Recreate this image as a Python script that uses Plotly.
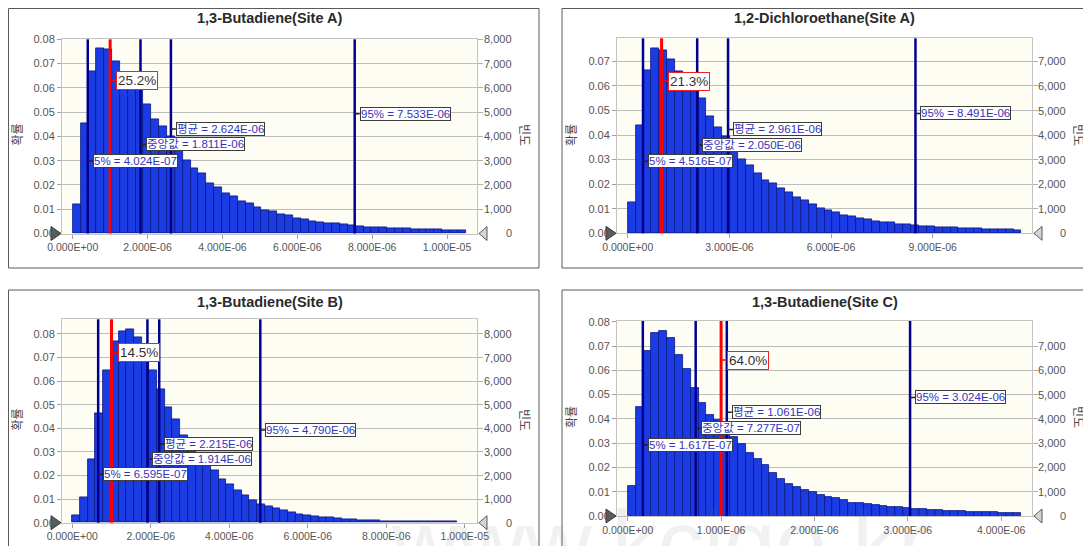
import numpy as np
import plotly.graph_objects as go

PAGE_W, PAGE_H = 1091, 546
BODY = 8                      # default page margin around the figure
W, H = PAGE_W - BODY, PAGE_H - BODY

# ---------------- data ----------------
titles = ["1,3-Butadiene(Site A)", "1,2-Dichloroethane(Site A)",
          "1,3-Butadiene(Site B)", "1,3-Butadiene(Site C)"]

prob_butadiene_a = [0.0121, 0.0455, 0.0667, 0.0763, 0.0759, 0.0711, 0.0655, 0.0612, 0.0595, 0.0533,
                    0.0471, 0.0440, 0.0400, 0.0353, 0.0300, 0.0270, 0.0247, 0.0208, 0.0190, 0.0167,
                    0.0153, 0.0133, 0.0123, 0.0108, 0.0095, 0.0090, 0.0081, 0.0073, 0.0062, 0.0058,
                    0.0052, 0.0047, 0.0044, 0.0041, 0.0037, 0.0033, 0.0030, 0.0027, 0.0026, 0.0025,
                    0.0022, 0.0022, 0.0020, 0.0019, 0.0018, 0.0018, 0.0016, 0.0015, 0.0015, 0.0015]
prob_dichloroethane_a = [0.0125, 0.0441, 0.0662, 0.0753, 0.0746, 0.0708, 0.0660, 0.0594, 0.0586, 0.0550,
                         0.0478, 0.0430, 0.0393, 0.0340, 0.0301, 0.0275, 0.0244, 0.0217, 0.0204, 0.0183,
                         0.0167, 0.0145, 0.0133, 0.0117, 0.0103, 0.0092, 0.0085, 0.0075, 0.0068, 0.0061,
                         0.0057, 0.0050, 0.0046, 0.0043, 0.0038, 0.0035, 0.0033, 0.0030, 0.0027, 0.0024,
                         0.0024, 0.0023, 0.0022, 0.0020, 0.0019, 0.0018, 0.0018, 0.0016, 0.0015, 0.0014]
prob_butadiene_b = [0.0033, 0.0106, 0.0269, 0.0464, 0.0647, 0.0767, 0.0810, 0.0820, 0.0786, 0.0720,
                    0.0645, 0.0567, 0.0490, 0.0438, 0.0370, 0.0330, 0.0290, 0.0254, 0.0223, 0.0185,
                    0.0164, 0.0139, 0.0117, 0.0096, 0.0079, 0.0068, 0.0061, 0.0051, 0.0044, 0.0037,
                    0.0031, 0.0027, 0.0023, 0.0021, 0.0020, 0.0016, 0.0013, 0.0011, 0.0010, 0.0009,
                    0.0008, 0.0008, 0.0007, 0.0007, 0.0006, 0.0006, 0.0006, 0.0005, 0.0005, 0.0005]
prob_butadiene_c = [0.0123, 0.0447, 0.0679, 0.0752, 0.0763, 0.0731, 0.0663, 0.0604, 0.0528, 0.0466,
                    0.0416, 0.0395, 0.0360, 0.0326, 0.0296, 0.0258, 0.0233, 0.0210, 0.0176, 0.0151,
                    0.0130, 0.0121, 0.0107, 0.0097, 0.0088, 0.0080, 0.0073, 0.0066, 0.0055, 0.0052,
                    0.0049, 0.0044, 0.0041, 0.0038, 0.0036, 0.0034, 0.0030, 0.0029, 0.0026, 0.0025,
                    0.0022, 0.0021, 0.0019, 0.0018, 0.0016, 0.0015, 0.0015, 0.0014, 0.0012, 0.0011]
probs = [prob_butadiene_a, prob_dichloroethane_a, prob_butadiene_b, prob_butadiene_c]

hist_max = [10.50e-6, 11.62e-6, 9.81e-6, 4.215e-6]   # upper end of histogram range
pct5 = [4.024e-7, 4.516e-7, 6.595e-7, 1.617e-7]
median = [1.811e-6, 2.050e-6, 1.914e-6, 7.277e-7]
mean = [2.624e-6, 2.961e-6, 2.215e-6, 1.061e-6]
pct95 = [7.533e-6, 8.491e-6, 4.790e-6, 3.024e-6]
threshold = [1.0e-6, 1.0e-6, 1.0e-6, 1.0e-6]
certainty = ["25.2%", "21.3%", "14.5%", "64.0%"]
trials = 100000

x_ticks = [[0, 2e-6, 4e-6, 6e-6, 8e-6, 1e-5],
           [0, 3e-6, 6e-6, 9e-6],
           [0, 2e-6, 4e-6, 6e-6, 8e-6, 1e-5],
           [0, 1e-6, 2e-6, 3e-6, 4e-6]]
prob_ticks = [[0.00, 0.01, 0.02, 0.03, 0.04, 0.05, 0.06, 0.07, 0.08],
              [0.00, 0.01, 0.02, 0.03, 0.04, 0.05, 0.06, 0.07],
              [0.00, 0.01, 0.02, 0.03, 0.04, 0.05, 0.06, 0.07, 0.08],
              [0.00, 0.01, 0.02, 0.03, 0.04, 0.05, 0.06, 0.07, 0.08]]
freq_ticks = [[0, 1000, 2000, 3000, 4000, 5000, 6000, 7000, 8000],
              [0, 1000, 2000, 3000, 4000, 5000, 6000, 7000],
              [0, 1000, 2000, 3000, 4000, 5000, 6000, 7000, 8000],
              [0, 1000, 2000, 3000, 4000, 5000, 6000, 7000]]

# label heights (probability units) for: certainty, 95%, mean, median, 5%
label_y = [[0.0629, 0.0493, 0.0430, 0.0367, 0.0299],
           [0.0620, 0.0488, 0.0423, 0.0360, 0.0293],
           [0.0721, 0.0393, 0.0334, 0.0270, 0.0206],
           [0.0642, 0.0488, 0.0427, 0.0361, 0.0292]]

# ---------------- layout geometry (page pixels) ----------------
plot_px = [(62, 477, 39.3, 233.5), (617, 1032, 38.3, 233.3),
           (62, 477, 319.3, 522.7), (617, 1032, 321, 516)]
x_ranges = [[-0.286e-6, 10.80e-6], [-0.316e-6, 11.93e-6],
            [-0.262e-6, 10.31e-6], [-0.115e-6, 4.33e-6]]
y_ranges = [[0, 0.080], [0, 0.0794], [0, 0.0862], [0, 0.0803]]
frames_px = [(8.5, 539, 8.5, 268), (562, 1100, 8.5, 268), (8.5, 539, 290, 570), (562, 1100, 290, 570)]
title_px = [(269.5, 18), (824.5, 18), (269.5, 302), (824.5, 302)]
ylab_px = [(15.5, 135), (570, 135), (15.5, 420), (570, 417)]
flab_px = [(526, 135), (1080, 135), (526, 420), (1080, 417)]
ftick_right_px = [514, 1068, 514, 1068]


def px_x(v):
    return (v - BODY) / W


def px_y(v):
    return 1 - (v - BODY) / H


FONT = "Liberation Sans, Arial, Noto Sans CJK KR, sans-serif"
BAR_COLOR = "#1b3be3"
BAR_EDGE = "#0a1784"
LINE_COLOR = "#00008f"
LABEL_TEXT = "#3434b8"

fig = go.Figure()
shapes = []
annotations = []
layout = {}

for i in range(4):
    n = i + 1
    xa = "x" if n == 1 else f"x{n}"
    ya = "y" if n == 1 else f"y{n}"
    ya_r = f"y{n + 4}"
    vals = np.array(probs[i])
    nb = len(vals)
    bw = hist_max[i] / nb
    centers = (np.arange(nb) + 0.5) * bw

    fig.add_trace(go.Bar(x=centers, y=vals, width=bw, xaxis=xa, yaxis=ya,
                         marker=dict(color=BAR_COLOR, line=dict(color=BAR_EDGE, width=0.8)),
                         showlegend=False, hoverinfo="skip"))
    fig.add_trace(go.Scatter(x=[centers[0]], y=[vals[0] * trials], xaxis=xa, yaxis=ya_r,
                             mode="markers", marker=dict(opacity=0), showlegend=False,
                             hoverinfo="skip"))

    x0, x1, y0, y1 = plot_px[i]
    xdom = [px_x(x0), px_x(x1)]
    ydom = [px_y(y1), px_y(y0)]
    xkey = "xaxis" if n == 1 else f"xaxis{n}"
    ykey = "yaxis" if n == 1 else f"yaxis{n}"
    layout[xkey] = dict(domain=xdom, anchor=ya, range=x_ranges[i], automargin=False,
                        tickvals=x_ticks[i], ticktext=[f"{v:.3E}" for v in x_ticks[i]],
                        ticks="outside", ticklen=4, tickcolor="#a0a0a0",
                        tickfont=dict(family=FONT, size=10.5, color="#555555"),
                        showgrid=False, zeroline=False, showline=True, mirror=True,
                        linecolor="#c4c4c4", linewidth=1, fixedrange=True)
    layout[ykey] = dict(domain=ydom, anchor=xa, range=y_ranges[i], automargin=False,
                        tickvals=prob_ticks[i], ticktext=[f"{v:.2f}" for v in prob_ticks[i]],
                        ticks="outside", ticklen=4, tickcolor="#a0a0a0",
                        tickfont=dict(family=FONT, size=11, color="#555555"),
                        showgrid=True, gridcolor="#bdbdbd", gridwidth=1,
                        zeroline=False, showline=True, mirror=True,
                        linecolor="#c4c4c4", linewidth=1, fixedrange=True)
    layout[f"yaxis{n + 4}"] = dict(overlaying=ya, side="right", anchor=xa, automargin=False,
                                   range=[y_ranges[i][0] * trials, y_ranges[i][1] * trials],
                                   tickvals=freq_ticks[i], showticklabels=False,
                                   ticks="outside", ticklen=5, tickcolor="#b0b0b0",
                                   showgrid=False, zeroline=False, showline=False,
                                   fixedrange=True)

    for f in freq_ticks[i]:
        annotations.append(dict(x=px_x(ftick_right_px[i]), xref="paper", y=f / trials, yref=ya,
                                text=f"{f:,}", showarrow=False, xanchor="right", yanchor="middle",
                                font=dict(family=FONT, size=11, color="#555555")))

    fx0, fx1, fy0, fy1 = frames_px[i]
    shapes.append(dict(type="rect", xref="paper", yref="paper",
                       x0=px_x(fx0), x1=px_x(fx1), y0=px_y(fy1), y1=px_y(fy0),
                       line=dict(color="#5a5a5a", width=1), fillcolor="rgba(0,0,0,0)",
                       layer="below"))

    for v in [pct5[i], median[i], mean[i], pct95[i]]:
        shapes.append(dict(type="line", xref=xa, yref=f"{ya} domain", x0=v, x1=v, y0=0, y1=1,
                           line=dict(color=LINE_COLOR, width=2.5)))
    shapes.append(dict(type="line", xref=xa, yref=f"{ya} domain", x0=threshold[i], x1=threshold[i],
                       y0=0, y1=1, line=dict(color="#ff0000", width=3)))

    # grabber triangles (paper referenced so they are not clipped)
    shapes.append(dict(type="path", xref="paper", yref="paper", xsizemode="pixel",
                       ysizemode="pixel", xanchor=px_x(x0), yanchor=px_y(y1),
                       path="M -11,-7 L -1,0 L -11,7 Z", fillcolor="#5c5c5c",
                       line=dict(color="#3a3a3a", width=1)))
    shapes.append(dict(type="path", xref="paper", yref="paper", xsizemode="pixel",
                       ysizemode="pixel", xanchor=px_x(x1), yanchor=px_y(y1),
                       path="M 2,0 L 10,-7 L 10,7 Z", fillcolor="#d4d4d4",
                       line=dict(color="#5a5a5a", width=1)))

    ly = label_y[i]
    stat_labels = [(pct95[i], ly[1], f"95% = {pct95[i]:.3E}"),
                   (mean[i], ly[2], f"평균 = {mean[i]:.3E}"),
                   (median[i], ly[3], f"중앙값 = {median[i]:.3E}"),
                   (pct5[i], ly[4], f"5% = {pct5[i]:.3E}")]
    for xv, yv, txt in stat_labels:
        annotations.append(dict(x=xv, y=yv, xref=xa, yref=ya, text=txt, showarrow=True,
                                arrowhead=0, arrowwidth=1.5, arrowcolor="#222222",
                                ax=5, ay=0, xanchor="left", yanchor="middle",
                                bgcolor="#ffffff", bordercolor="#3c3c3c", borderwidth=1,
                                borderpad=0,
                                font=dict(family=FONT, size=11.5, color=LABEL_TEXT)))
    annotations.append(dict(x=threshold[i], y=ly[0], xref=xa, yref=ya, text=certainty[i],
                            showarrow=True, arrowhead=0, arrowwidth=1.5, arrowcolor="#ff0000",
                            ax=6, ay=0, xanchor="left", yanchor="middle",
                            bgcolor="#ffffff", bordercolor="#ee2222", borderwidth=1,
                            borderpad=1,
                            font=dict(family=FONT, size=13.5, color="#333333")))

    tx, ty = title_px[i]
    annotations.append(dict(x=px_x(tx), y=px_y(ty), xref="paper", yref="paper",
                            text=f"<b>{titles[i]}</b>", showarrow=False,
                            xanchor="center", yanchor="middle",
                            font=dict(family=FONT, size=14.5, color="#2a2a2a")))
    lx, lyy = ylab_px[i]
    annotations.append(dict(x=px_x(lx), y=px_y(lyy), xref="paper", yref="paper",
                            text="확률", showarrow=False, textangle=-90,
                            xanchor="center", yanchor="middle",
                            font=dict(family="Noto Sans CJK KR", size=12, color="#444444")))
    rx, ry = flab_px[i]
    annotations.append(dict(x=px_x(rx), y=px_y(ry), xref="paper", yref="paper",
                            text="빈도", showarrow=False, textangle=90,
                            xanchor="center", yanchor="middle",
                            font=dict(family="Noto Sans CJK KR", size=12, color="#444444")))

# faint watermark
annotations.append(dict(x=px_x(660), y=px_y(546), xref="paper", yref="paper",
                        text="www.kcigo.kr", showarrow=False, xanchor="center", yanchor="bottom",
                        yshift=-50,
                        font=dict(family=FONT, size=92, color="rgba(120,120,120,0.10)")))

fig.update_layout(width=W, height=H, margin=dict(l=0, r=0, t=0, b=0, autoexpand=False),
                  paper_bgcolor="#ffffff", plot_bgcolor="#fdfdf3",
                  bargap=0, showlegend=False, shapes=shapes, annotations=annotations,
                  **layout)

fig.write_html("out.html")
